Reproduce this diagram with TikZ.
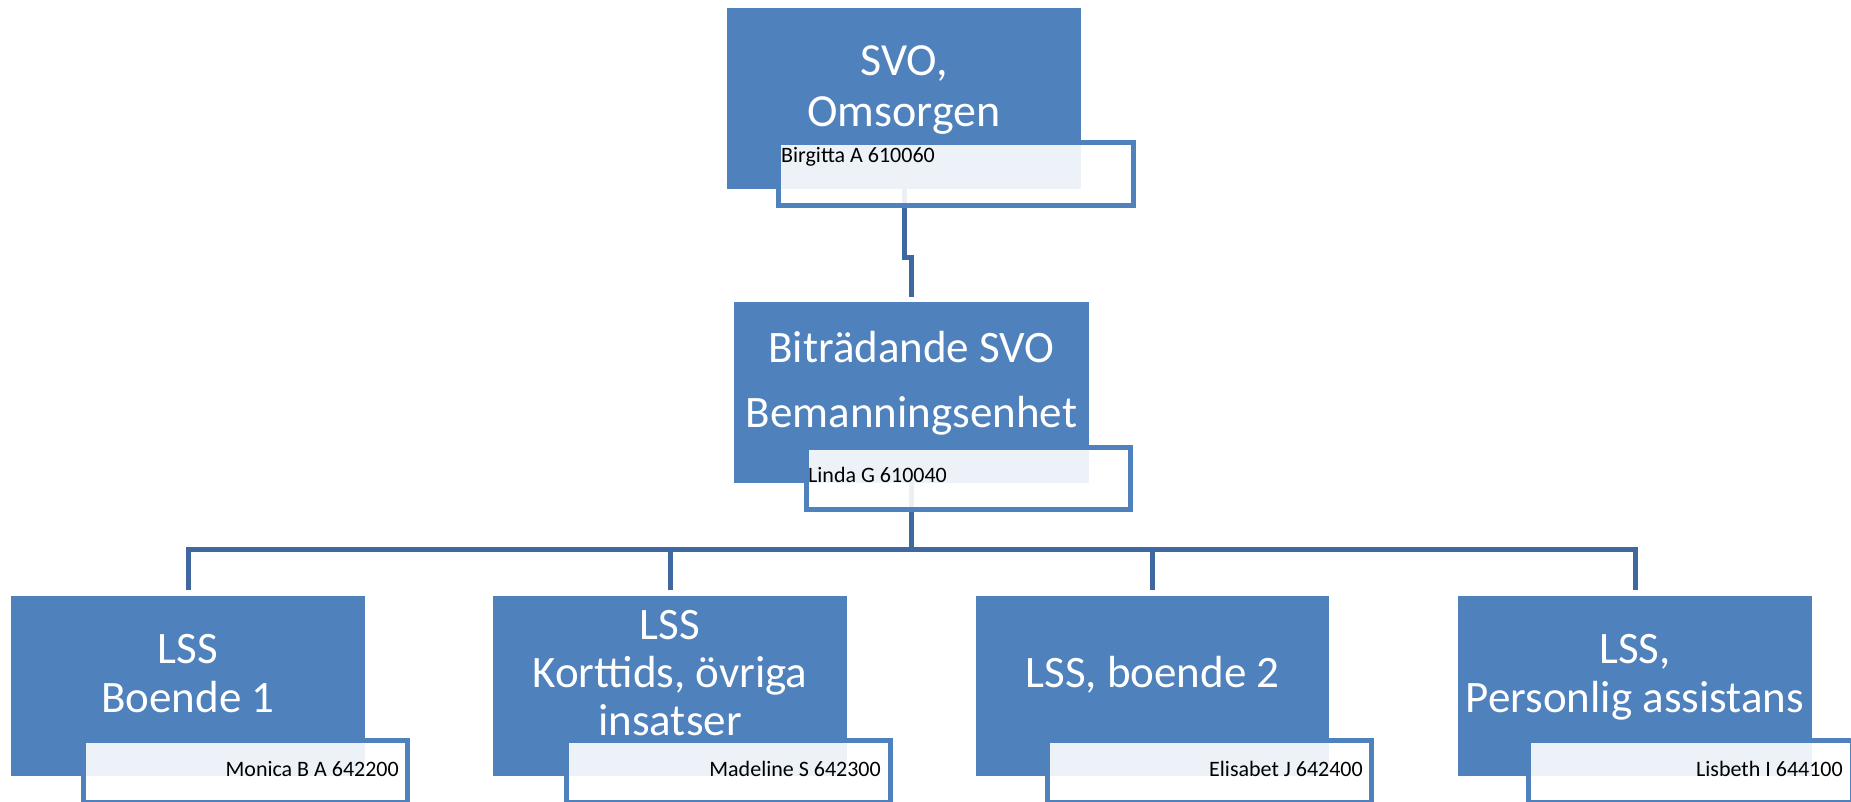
\documentclass[tikz,border=0pt]{standalone}
\usepackage{fontspec}
\setmainfont{Carlito}
\definecolor{unitblue}{HTML}{4F81BD}
\definecolor{linkblue}{HTML}{3F67A0}

\begin{document}
\begin{tikzpicture}[x=1pt,y=-1pt,
    unit/.style={fill=unitblue, draw=none, inner sep=0pt, anchor=north west},
    title/.style={text=white, align=center, inner sep=0pt, anchor=base},
    namebox/.style={draw=unitblue, line width=5pt, fill=white, fill opacity=0.9, inner sep=0pt, anchor=north west, minimum height=62pt, minimum width=324pt},
    nametxt/.style={text=black, inner sep=0pt, font=\fontsize{22}{26}\selectfont},
    link/.style={draw=linkblue, line width=5pt}]
\useasboundingbox (0,0) rectangle (1851,802);

    \node[unit, minimum width=354pt, minimum height=181pt] (svo) at (727,8) {};
    \node[unit, minimum width=355pt, minimum height=181pt] (bsvo) at (734,302) {};
    \node[unit, minimum width=354pt, minimum height=180pt] (lss1) at (11,596) {};
    \node[unit, minimum width=354pt, minimum height=180pt] (lss2) at (493,596) {};
    \node[unit, minimum width=353pt, minimum height=180pt] (lss3) at (976,596) {};
    \node[unit, minimum width=354pt, minimum height=180pt] (lss4) at (1458,596) {};

    \node[title, font=\fontsize{46}{51}\selectfont] (svoT) at (904,127) {SVO,\\Omsorgen};
    \node[title, font=\fontsize{45}{65}\selectfont] (bsvoT) at (911.5,427) {Biträdande SVO\\Bemanningsenhet};
    \node[title, font=\fontsize{45}{49}\selectfont] (lss1T) at (188,712) {LSS\\Boende 1};
    \node[title, font=\fontsize{45}{48}\selectfont] (lss2T) at (670,735) {LSS\\Korttids, övriga\\insatser};
    \node[title, font=\fontsize{45}{49}\selectfont] (lss3T) at (1152.5,687) {LSS, boende 2};
    \node[title, font=\fontsize{45}{49}\selectfont] (lss4T) at (1635,712) {LSS,\\Personlig assistans};

    \draw[link, shorten >=5pt] (svo.south) -- ++(0,68) -| (bsvo.north);
    \draw[link] (bsvo.south) -- ++(0,66) coordinate (bar);
    \draw[link, shorten >=6pt] (bar) -| (lss1.north);
    \draw[link, shorten >=6pt] (bar) -| (lss2.north);
    \draw[link, shorten >=6pt] (bar) -| (lss3.north);
    \draw[link, shorten >=6pt] (bar) -| (lss4.north);

    \node[namebox, minimum width=355pt, minimum height=63pt] (svoN) at (775.5,140.5) {};
    \node[namebox] (bsvoN) at (803.5,444.5) {};
    \node[namebox] (lss1N) at (80.5,737.5) {};
    \node[namebox] (lss2N) at (563.5,737.5) {};
    \node[namebox] (lss3N) at (1044.5,737.5) {};
    \node[namebox] (lss4N) at (1525.5,737.5) {};

    \node[nametxt, anchor=base west] (svoP) at (781,163) {Birgitta A 610060};
    \node[nametxt, anchor=base west] (bsvoP) at (808,482) {Linda G 610040};
    \node[nametxt, anchor=base east] (lss1P) at (399,776) {Monica B A 642200};
    \node[nametxt, anchor=base east] (lss2P) at (881,776) {Madeline S 642300};
    \node[nametxt, anchor=base east] (lss3P) at (1363,776) {Elisabet J 642400};
    \node[nametxt, anchor=base east] (lss4P) at (1843,776) {Lisbeth I 644100};
\end{tikzpicture}
\end{document}
